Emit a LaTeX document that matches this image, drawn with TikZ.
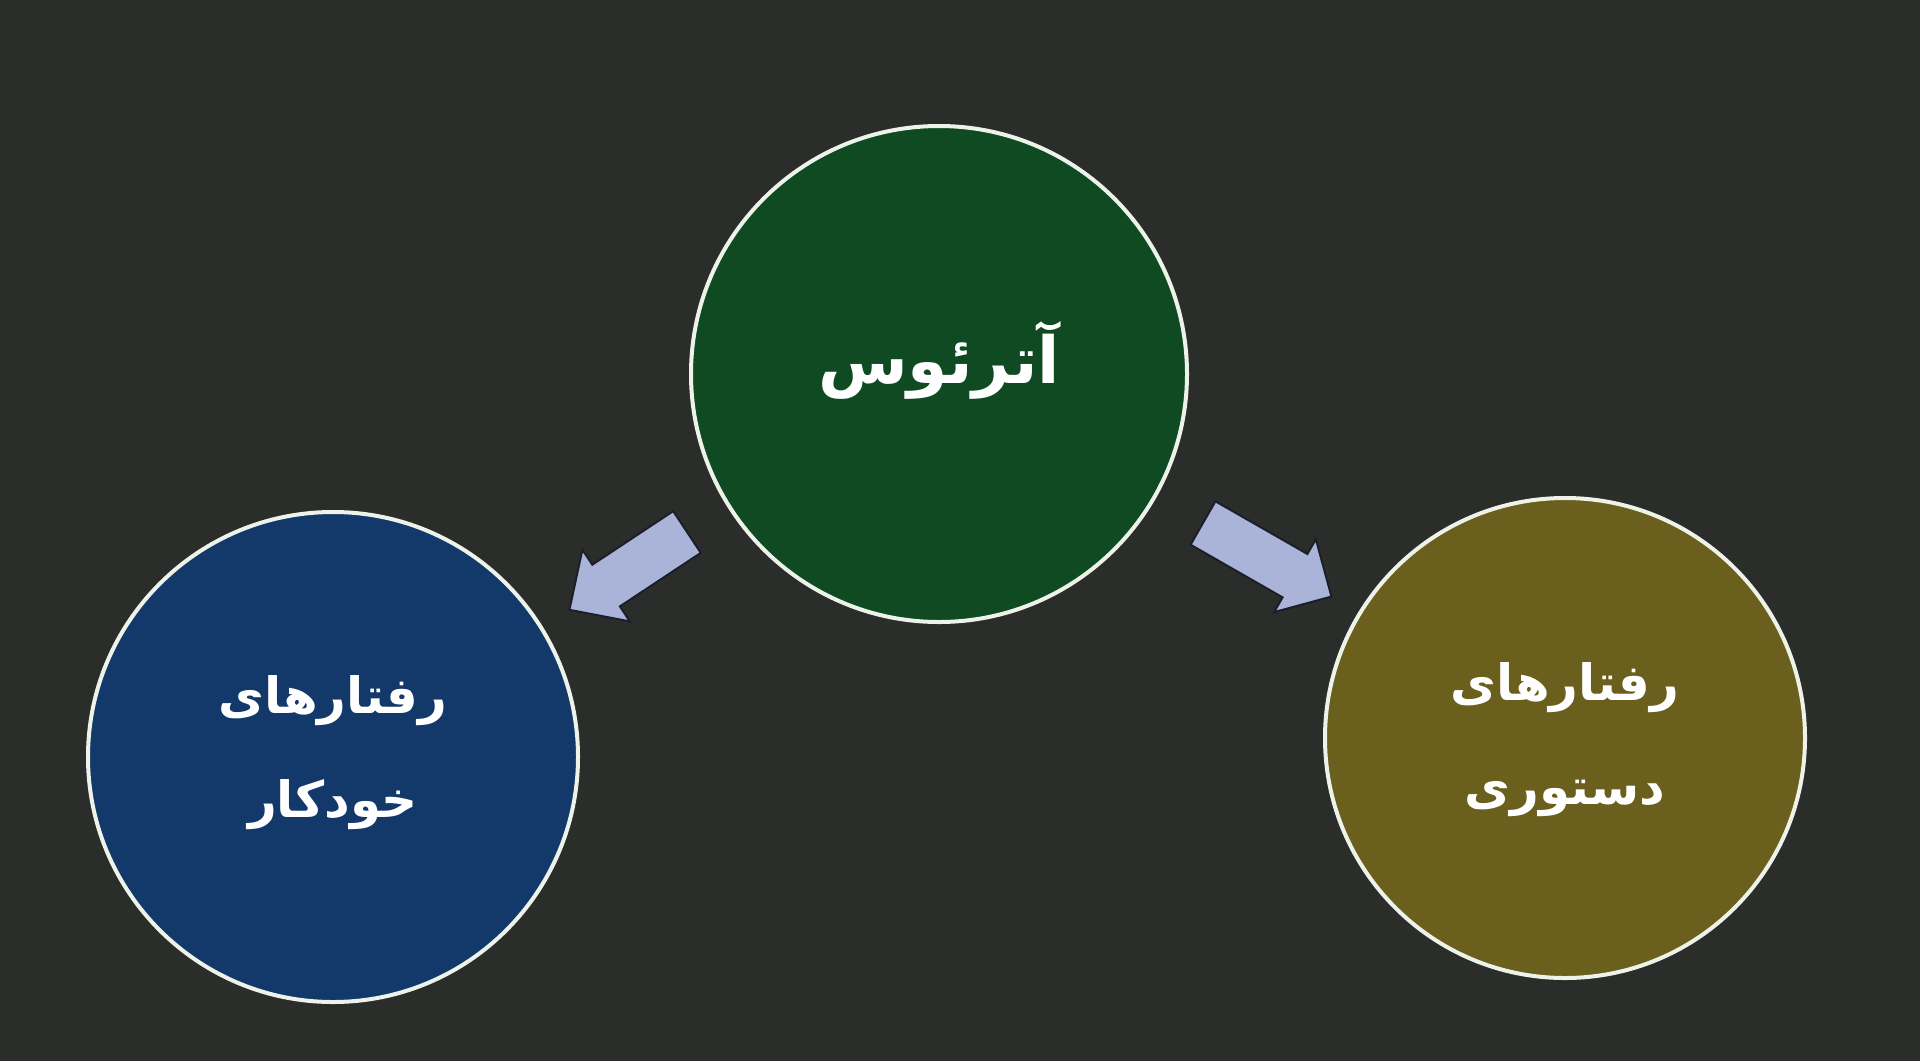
\documentclass[tikz,border=0pt]{standalone}
\usepackage{fontspec}
\TeXXeTstate=1
\newfontfamily\arabicfont[Script=Arabic]{DejaVu Sans}
\definecolor{bgc}{HTML}{2B2D2B}
\definecolor{greenc}{HTML}{0F4A23}
\definecolor{bluec}{HTML}{12396A}
\definecolor{olivec}{HTML}{6B5F1E}
\definecolor{rimc}{HTML}{EEF3EA}
\definecolor{arrowc}{HTML}{AAB4D9}
\definecolor{arrowline}{HTML}{1C1F2A}
\tikzset{
  bubble/.style={circle, draw=rimc, line width=4pt, inner sep=0pt},
  bubbletext/.style={text=white, font=\arabicfont\bfseries, align=center, inner sep=0pt},
  blockarrowstyle/.style={fill=arrowc, draw=arrowline, line width=2pt, line join=miter},
}
\begin{document}
\begin{tikzpicture}[x=1pt,y=-1pt]
\fill[bgc] (0,0) rectangle (1920,1061);
\useasboundingbox (0,0) rectangle (1920,1061);

\node[bubble, fill=greenc, minimum size=496pt] (top) at (939,374) {};
\node[bubble, fill=bluec, minimum size=490pt] (left) at (333,757) {};
\node[bubble, fill=olivec, minimum size=480pt] (right) at (1565,738) {};

\node[bubbletext, font=\arabicfont\bfseries\fontsize{65}{76}\selectfont] (toptext) at ([yshift=14pt]top.center) {\beginR آترئوس\endR};
\node[bubbletext, font=\arabicfont\bfseries\fontsize{50}{104}\selectfont] (lefttext) at ([yshift=4pt]left.center) {\beginR رفتارهای\endR\\\beginR خودکار\endR};
\node[bubbletext, font=\arabicfont\bfseries\fontsize{50}{104}\selectfont] (righttext) at ([yshift=-2pt]right.center) {\beginR رفتارهای\endR\\\beginR دستوری\endR};

\coordinate (la) at (687,532);
\coordinate (ra) at (1203,523);
\begin{scope}[shift={(la)}, rotate=213.5]
  \draw[blockarrowstyle] (0,-25) -- (97,-25) -- (97,-43) -- (141,0) -- (97,43) -- (97,25) -- (0,25) -- cycle;
\end{scope}
\begin{scope}[shift={(ra)}, rotate=-29.8]
  \draw[blockarrowstyle] (0,-25) -- (106,-25) -- (106,-42) -- (148,0) -- (106,42) -- (106,25) -- (0,25) -- cycle;
\end{scope}
\end{tikzpicture}
\end{document}
